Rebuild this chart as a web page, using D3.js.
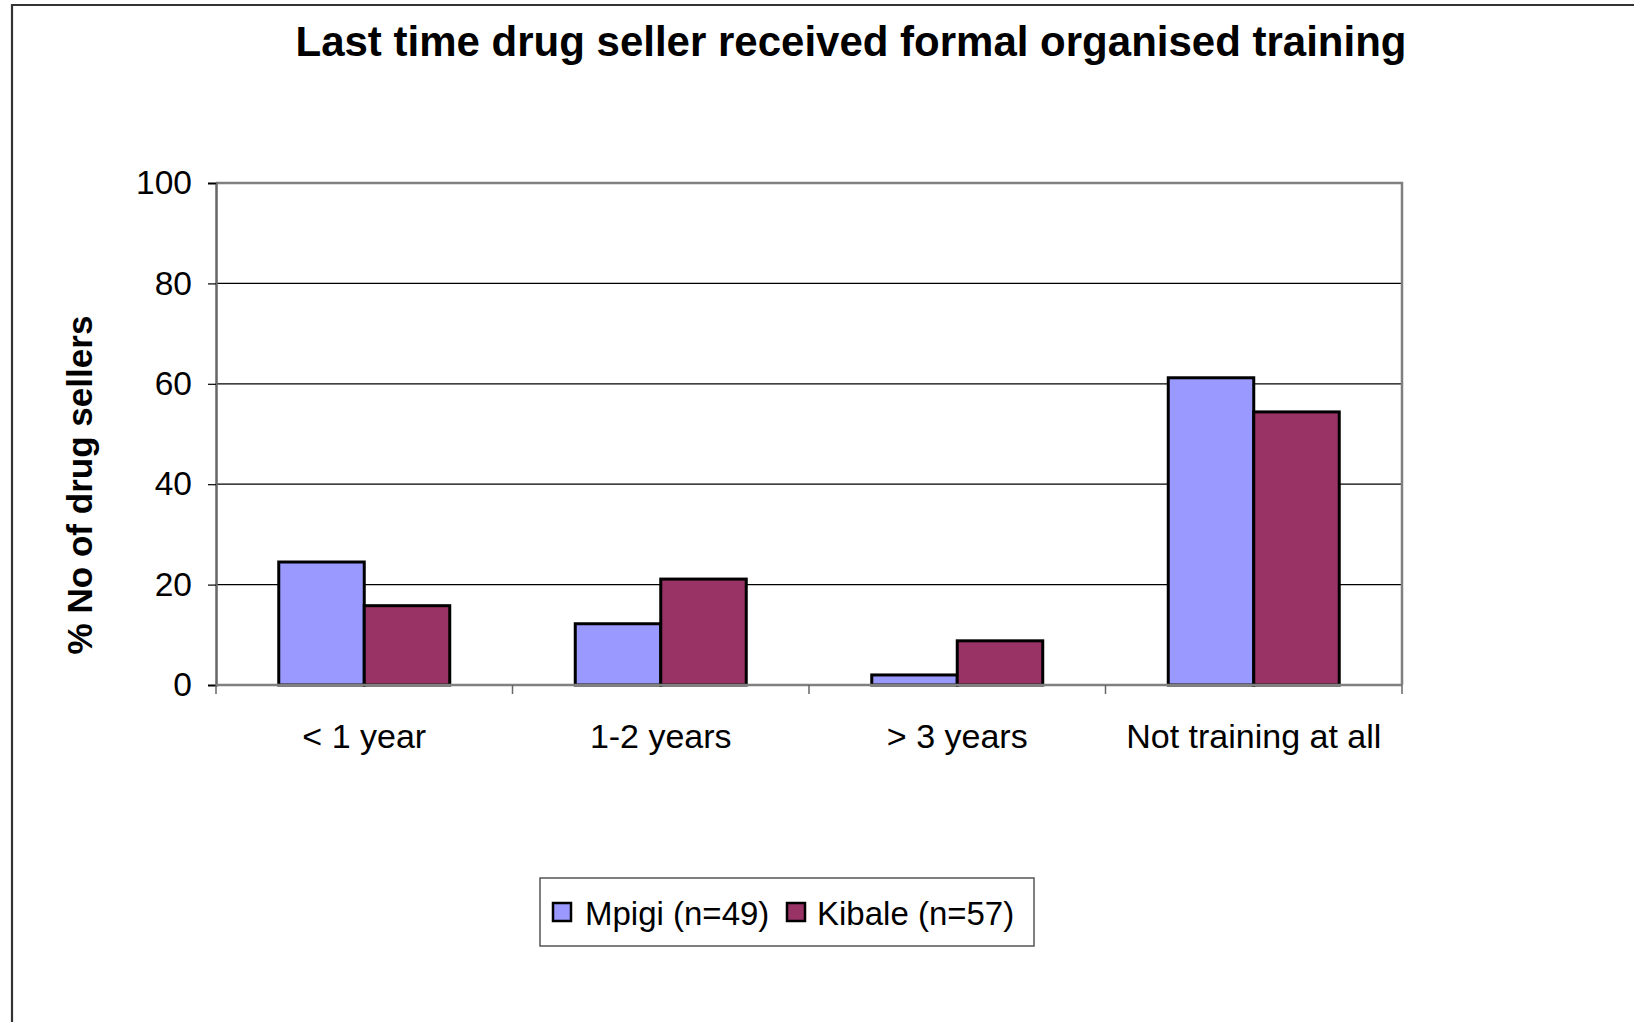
<!DOCTYPE html>
<html>
<head>
<meta charset="utf-8">
<script src="https://cdn.jsdelivr.net/npm/d3@7"></script>
<style>
  html, body { margin: 0; padding: 0; background: #fff; }
  svg { display: block; font-family: "Liberation Sans", Arial, sans-serif; }
</style>
</head>
<body>
<svg id="chart" width="1634" height="1022"></svg>
<script>
const title = "Last time drug seller received formal organised training";
const yAxisTitle = "% No of drug sellers";
const categories = ["< 1 year", "1-2 years", "> 3 years", "Not training at all"];
const seriesNames = ["Mpigi (n=49)", "Kibale (n=57)"];
const mpigi = [24.5, 12.2, 2.0, 61.2];
const kibale = [15.8, 21.1, 8.8, 54.4];
const yTicks = [0, 20, 40, 60, 80, 100];
const colors = ["#9999FF", "#993366"];

const svg = d3.select("#chart");
const W = 1634, H = 1022;
const m = { left: 216, right: 1402, top: 183, bottom: 685 };

// outer chart border (cut at right and bottom)
svg.append("path")
  .attr("d", `M12,${H} V5 H${W}`)
  .attr("fill", "none").attr("stroke", "#333").attr("stroke-width", 2.2);

function fit(sel, target) {
  const len = sel.node().getComputedTextLength();
  const fs = parseFloat(sel.attr("font-size"));
  sel.attr("font-size", (fs * target / len).toFixed(2));
}

// title
const t = svg.append("text").text(title)
  .attr("x", 851).attr("y", 56).attr("text-anchor", "middle")
  .attr("font-weight", "bold").attr("font-size", 32).attr("fill", "#000");
fit(t, 1111);

const y = d3.scaleLinear().domain([0, 100]).range([m.bottom, m.top]);
const x0 = d3.scaleBand().domain(categories).range([m.left, m.right]).padding(0);
const x1 = d3.scaleBand().domain(seriesNames).range([0, x0.bandwidth()])
  .paddingInner(0).paddingOuter(0.734);

// gridlines
svg.append("g").selectAll("line").data(yTicks.filter(d => d > 0 && d < 100)).join("line")
  .attr("x1", m.left).attr("x2", m.right)
  .attr("y1", d => y(d)).attr("y2", d => y(d))
  .attr("stroke", "#000").attr("stroke-width", 1.2);

// plot border top and right (gray)
svg.append("path")
  .attr("d", `M${m.left},${m.top} H${m.right} V${m.bottom}`)
  .attr("fill", "none").attr("stroke", "#808080").attr("stroke-width", 2.5);

// bars
const rows = categories.map((c, i) => ({ cat: c, vals: [mpigi[i], kibale[i]] }));
const g = svg.append("g");
rows.forEach(r => {
  r.vals.forEach((v, j) => {
    g.append("rect")
      .attr("x", x0(r.cat) + x1(seriesNames[j]))
      .attr("y", y(v))
      .attr("width", x1.bandwidth())
      .attr("height", y(0) - y(v))
      .attr("fill", colors[j])
      .attr("stroke", "#000").attr("stroke-width", 3);
  });
});

// y axis
const yAxis = d3.axisLeft(y).tickValues(yTicks).tickSize(8).tickPadding(16);
const ya = svg.append("g").attr("transform", `translate(${m.left},0)`).call(yAxis);
ya.select(".domain").attr("stroke", "#666").attr("stroke-width", 2.5);
ya.selectAll(".tick line").attr("stroke", "#000").attr("stroke-width", 1.2);
ya.selectAll(".tick text").attr("font-size", 33.5).attr("fill", "#000")
  .attr("font-family", "Liberation Sans, Arial, sans-serif");

// x axis
const xa = svg.append("g").attr("transform", `translate(0,${m.bottom})`);
xa.append("line").attr("x1", m.left).attr("x2", m.right).attr("y1", 0).attr("y2", 0)
  .attr("stroke", "#808080").attr("stroke-width", 2.5);
const boundaries = categories.map(c => x0(c)).concat([m.right]);
xa.selectAll("line.tk").data(boundaries).join("line").attr("class", "tk")
  .attr("x1", d => d).attr("x2", d => d).attr("y1", 0).attr("y2", 9)
  .attr("stroke", "#666").attr("stroke-width", 1.5);
xa.selectAll("text").data(categories).join("text")
  .attr("x", d => x0(d) + x0.bandwidth() / 2).attr("y", 63)
  .attr("text-anchor", "middle").attr("font-size", 34).attr("fill", "#000")
  .text(d => d);

// y axis title
const yt = svg.append("text").text(yAxisTitle)
  .attr("transform", `translate(92,485) rotate(-90)`)
  .attr("text-anchor", "middle").attr("font-weight", "bold")
  .attr("font-size", 32).attr("fill", "#000");
fit(yt, 339);

// legend
const lg = svg.append("g");
lg.append("rect").attr("x", 540).attr("y", 878).attr("width", 494).attr("height", 68)
  .attr("fill", "#fff").attr("stroke", "#555").attr("stroke-width", 1.5);
const legItems = [
  { name: seriesNames[0], color: colors[0], sx: 553, tx: 585 },
  { name: seriesNames[1], color: colors[1], sx: 787, tx: 817 }
];
legItems.forEach(it => {
  lg.append("rect").attr("x", it.sx).attr("y", 903).attr("width", 18).attr("height", 18)
    .attr("fill", it.color).attr("stroke", "#000").attr("stroke-width", 2.5);
  lg.append("text").attr("x", it.tx).attr("y", 925).attr("font-size", 33)
    .attr("fill", "#000").text(it.name);
});
</script>
</body>
</html>
